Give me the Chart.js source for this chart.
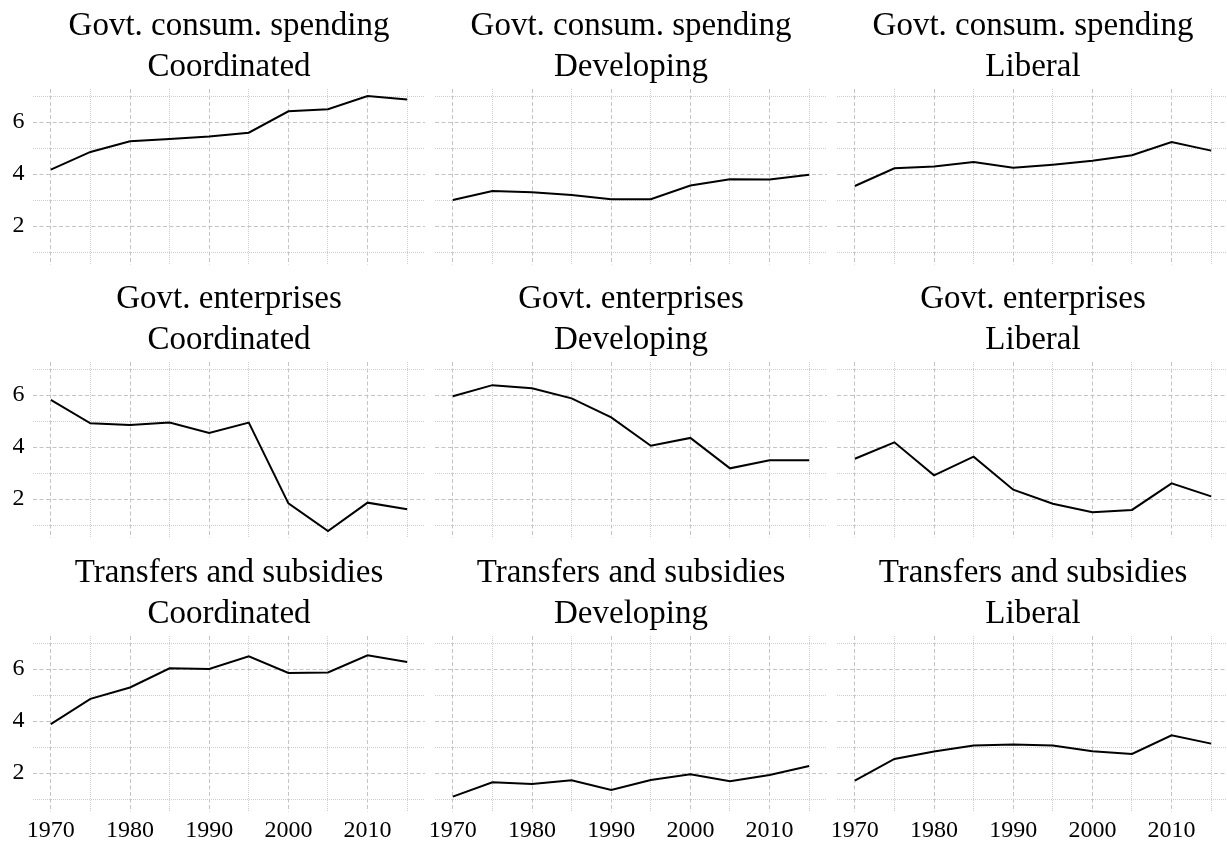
<!DOCTYPE html>
<html>
<head>
<meta charset="utf-8">
<script src="https://cdn.jsdelivr.net/npm/chart.js@4.4.1/dist/chart.umd.min.js"></script>
<style>
    body { margin: 0; background: #fff; overflow: hidden; width: 1227px; height: 846px; position: relative; }
    canvas { position: absolute; }
</style>
</head>
<body>
<script>
const years = [1970, 1975, 1980, 1985, 1990, 1995, 2000, 2005, 2010, 2015];
const xTickLabels = [1970, 1980, 1990, 2000, 2010];
const yTicks = [1, 2, 3, 4, 5, 6, 7];
const yTickLabels = [2, 4, 6];
const categories = ['Govt. consum. spending', 'Govt. enterprises', 'Transfers and subsidies'];
const regimes = ['Coordinated', 'Developing', 'Liberal'];

const consumCoordinated = [4.17, 4.85, 5.26, 5.35, 5.44, 5.59, 6.41, 6.49, 7.0, 6.87];
const consumDeveloping = [3.0, 3.35, 3.30, 3.19, 3.03, 3.03, 3.56, 3.80, 3.79, 3.97];
const consumLiberal = [3.54, 4.22, 4.29, 4.46, 4.24, 4.36, 4.51, 4.72, 5.23, 4.90];
const enterCoordinated = [5.81, 4.91, 4.85, 4.94, 4.54, 4.94, 1.83, 0.77, 1.86, 1.61];
const enterDeveloping = [5.95, 6.38, 6.26, 5.87, 5.14, 4.05, 4.35, 3.18, 3.49, 3.49];
const enterLiberal = [3.55, 4.18, 2.91, 3.63, 2.36, 1.82, 1.49, 1.58, 2.60, 2.10];
const transCoordinated = [3.88, 4.85, 5.29, 6.03, 6.0, 6.49, 5.85, 5.87, 6.53, 6.27];
const transDeveloping = [1.09, 1.64, 1.58, 1.72, 1.35, 1.73, 1.95, 1.68, 1.92, 2.27];
const transLiberal = [1.71, 2.54, 2.83, 3.06, 3.10, 3.06, 2.84, 2.73, 3.45, 3.13];

const panels = [
    [consumCoordinated, consumDeveloping, consumLiberal],
    [enterCoordinated, enterDeveloping, enterLiberal],
    [transCoordinated, transDeveloping, transLiberal]
];

// layout of the facet grid
const areaLeft = [33, 435, 837];
const rowTop = [0, 273, 547];
const sideW = 40;
const areaW = 392;
const canvasH = 300;
const fontFamily = "'Liberation Serif', 'Times New Roman', serif";
const majorColor = '#c4c4c4';
const minorColor = '#cdcdcd';

function gridDash(ctx, step) {
    if (!ctx.tick) return [];
    return ctx.tick.value % step === 0 ? [4, 2.5] : [1, 1];
}
function gridColor(ctx, step) {
    if (!ctx.tick) return majorColor;
    return ctx.tick.value % step === 0 ? majorColor : minorColor;
}

function makePanel(row, col) {
    const canvas = document.createElement('canvas');
    canvas.width = sideW * 2 + areaW;
    canvas.height = canvasH;
    canvas.style.left = (areaLeft[col] - sideW) + 'px';
    canvas.style.top = rowTop[row] + 'px';
    document.body.appendChild(canvas);

    const values = panels[row][col];
    new Chart(canvas, {
        type: 'line',
        data: {
            datasets: [{
                data: years.map((yr, i) => ({x: yr, y: values[i]})),
                borderColor: '#000',
                borderWidth: 2,
                pointRadius: 0,
                tension: 0,
                fill: false
            }]
        },
        options: {
            responsive: false,
            animation: false,
            devicePixelRatio: 1,
            layout: {padding: 0},
            plugins: {
                legend: {display: false},
                tooltip: {enabled: false},
                title: {
                    display: true,
                    text: [categories[row], regimes[col]],
                    color: '#000',
                    font: {family: fontFamily, size: 33, weight: 'normal', lineHeight: 41 / 33},
                    padding: {top: 6, bottom: 1}
                }
            },
            scales: {
                x: {
                    type: 'linear',
                    min: 1967.75,
                    max: 2017.25,
                    afterBuildTicks: s => { s.ticks = years.map(v => ({value: v})); },
                    afterFit: s => { s.height = canvasH - 89 - 176; },
                    grid: {
                        drawTicks: false,
                        lineWidth: 1,
                        color: ctx => gridColor(ctx, 10)
                    },
                    border: {display: false, dash: ctx => gridDash(ctx, 10)},
                    ticks: {
                        display: row === 2,
                        autoSkip: false,
                        maxRotation: 0,
                        padding: 4,
                        color: '#000',
                        font: {family: fontFamily, size: 24},
                        callback: v => xTickLabels.includes(v) ? String(v) : ''
                    }
                },
                y: {
                    type: 'linear',
                    min: 0.5,
                    max: 7.27,
                    afterBuildTicks: s => { s.ticks = yTicks.map(v => ({value: v})); },
                    afterFit: s => { s.width = sideW; },
                    grid: {
                        drawTicks: false,
                        lineWidth: 1,
                        color: ctx => gridColor(ctx, 2)
                    },
                    border: {display: false, dash: ctx => gridDash(ctx, 2)},
                    ticks: {
                        display: col === 0,
                        autoSkip: false,
                        padding: 8.5,
                        color: '#000',
                        font: {family: fontFamily, size: 24},
                        callback: v => yTickLabels.includes(v) ? String(v) : ''
                    }
                },
                yRight: {
                    type: 'linear',
                    position: 'right',
                    afterFit: s => { s.width = sideW; },
                    grid: {display: false},
                    border: {display: false},
                    ticks: {display: false}
                }
            }
        }
    });
}

for (let r = 0; r < 3; r++) {
    for (let c = 0; c < 3; c++) {
        makePanel(r, c);
    }
}
</script>
</body>
</html>
